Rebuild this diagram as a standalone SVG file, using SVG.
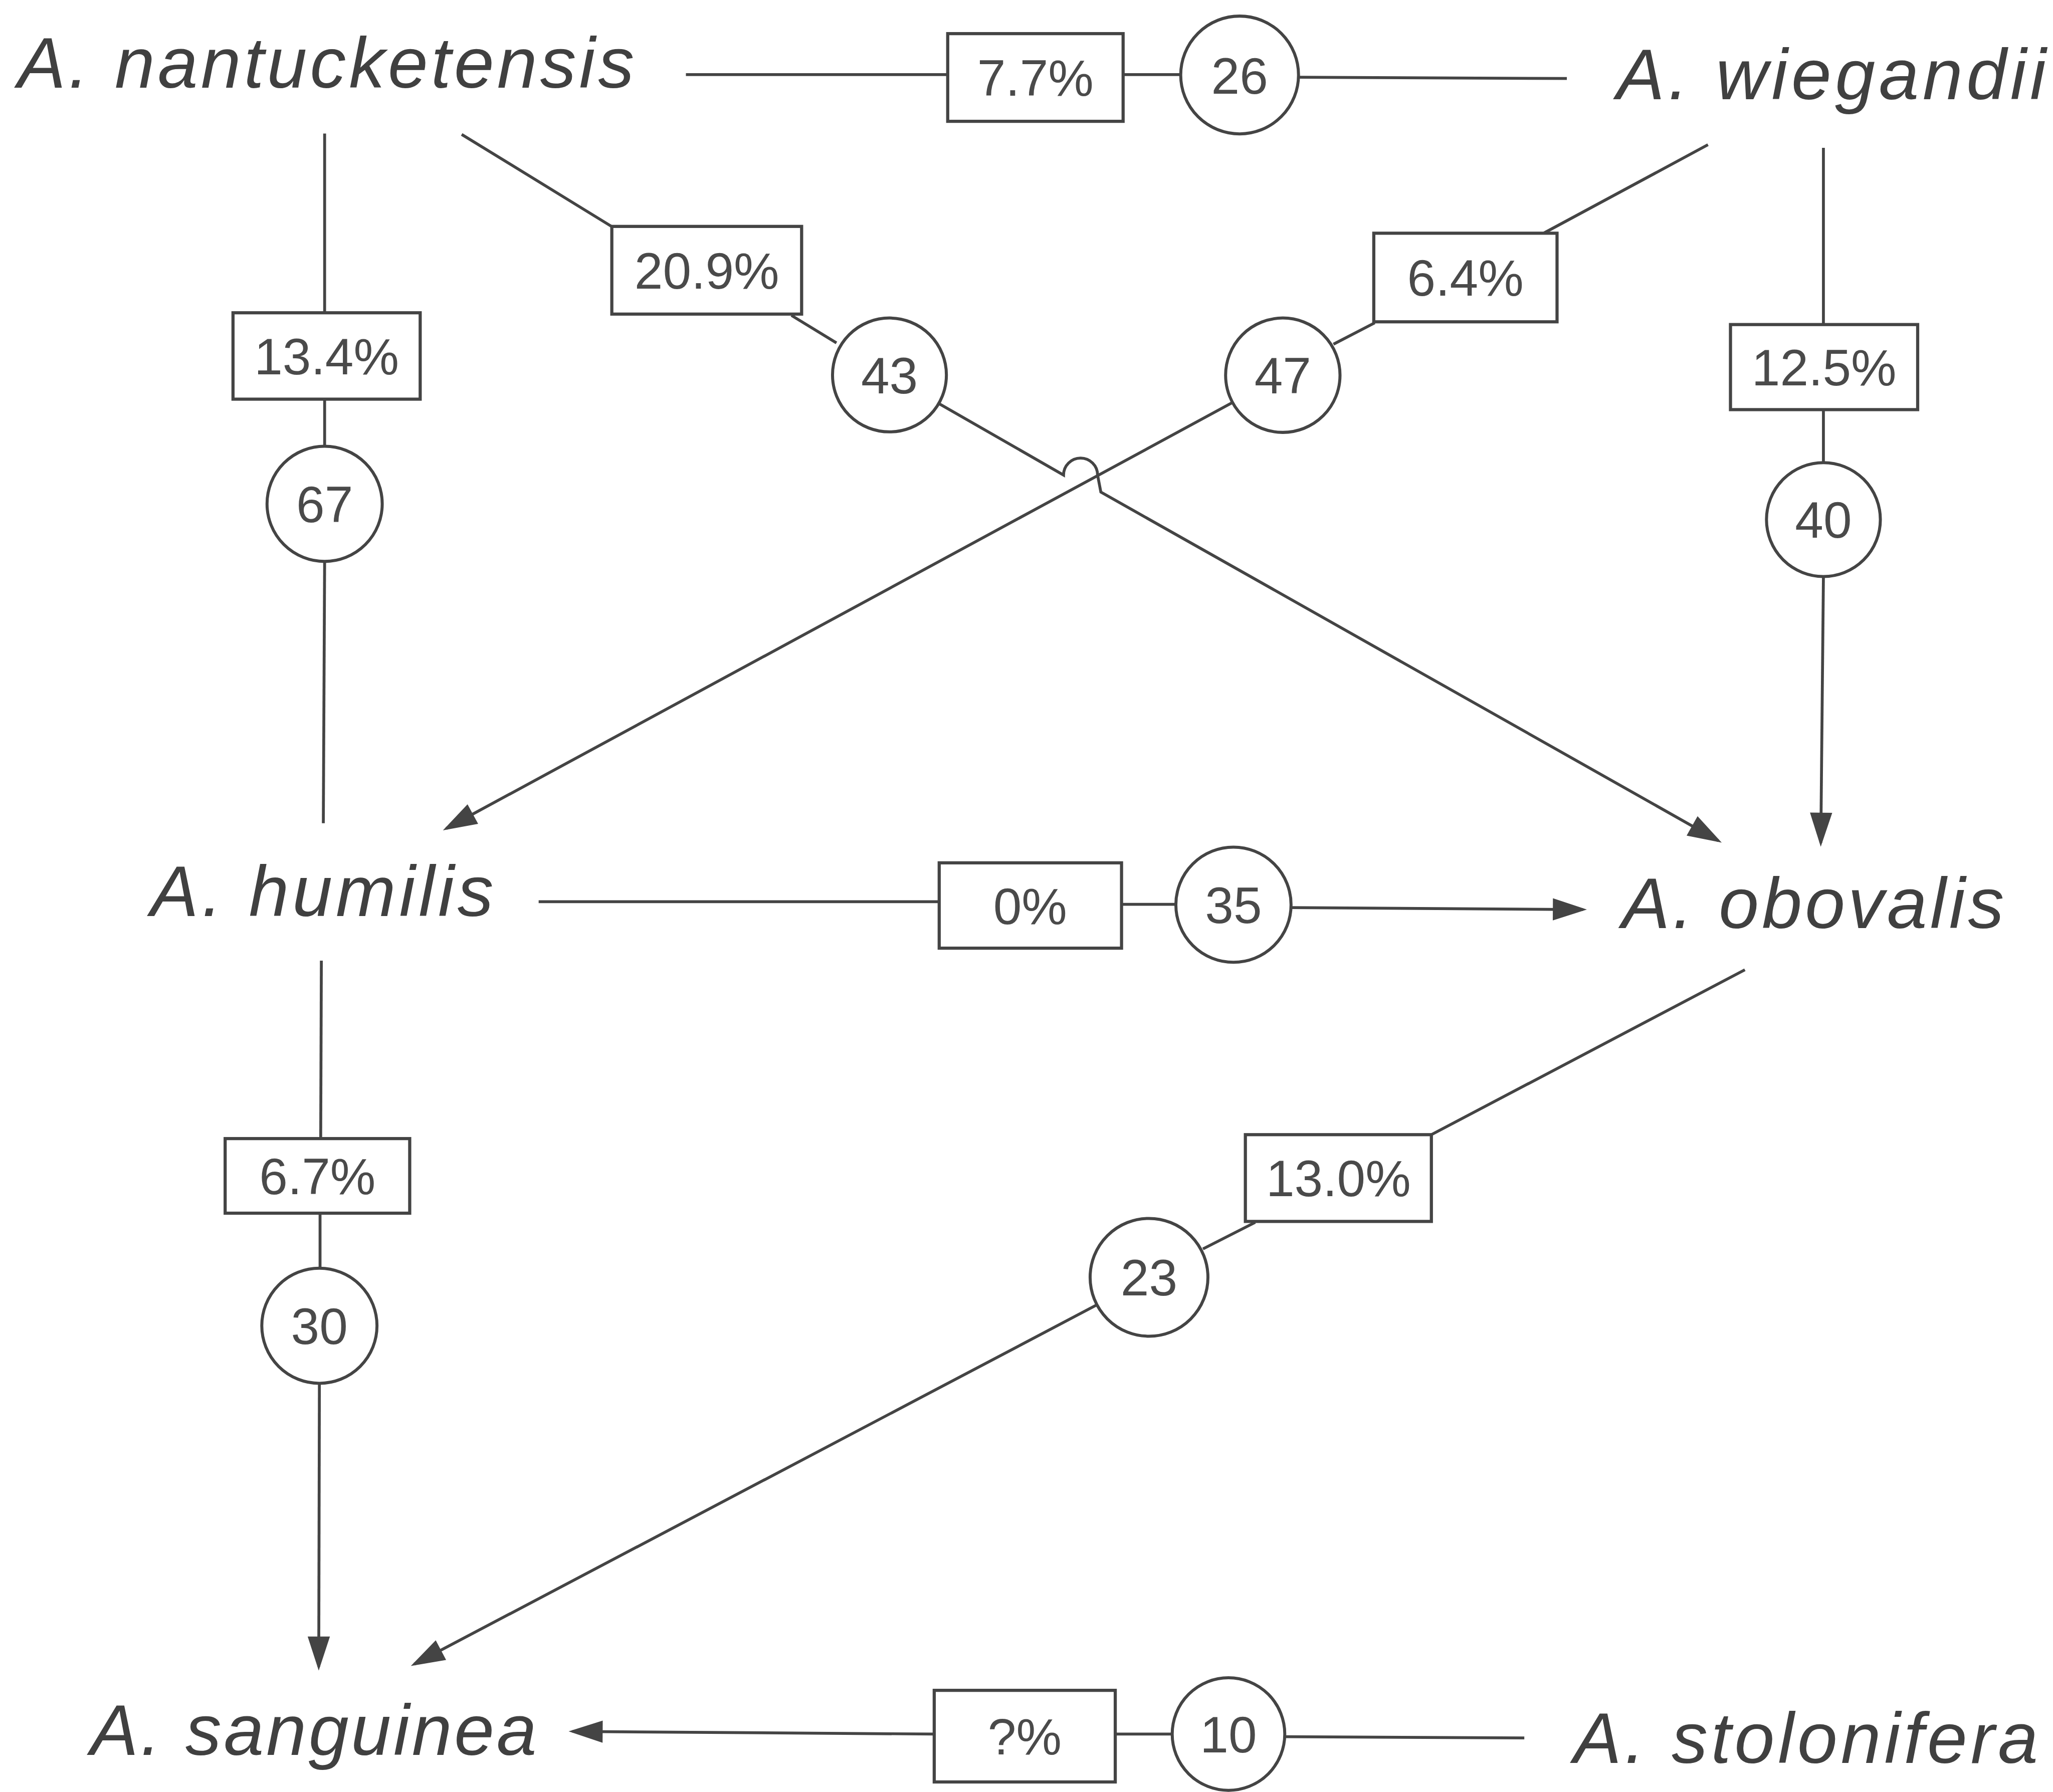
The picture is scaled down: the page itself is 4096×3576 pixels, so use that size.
<svg xmlns="http://www.w3.org/2000/svg" width="4096" height="3576" viewBox="0 0 4096 3576">
<defs>
<style>
.ln{fill:none;stroke:#444;stroke-width:2.2}
.bx{fill:#fff;stroke:#444;stroke-width:2.4}
.ci{fill:#fff;stroke:#444;stroke-width:2.3}
.num{font-family:"Liberation Sans",Arial,sans-serif;font-size:39px;fill:#4a4a4a;text-anchor:middle}
.sp{font-family:"Liberation Sans",Arial,sans-serif;font-style:italic;font-size:55px;fill:#404040}
</style>
<marker id="ah" markerUnits="userSpaceOnUse" markerWidth="26" markerHeight="17" refX="23" refY="8.5" orient="auto" overflow="visible">
<path d="M0,0 L26,8.5 L0,17 Z" fill="#444"/>
</marker>
</defs>
<rect width="4096" height="3576" fill="#ffffff"/>
<g transform="scale(2.6116)">
<g id="connectors">
<path class="ln" d="M524,57 L724,57"/>
<path class="ln" d="M858,57 L902,57"/>
<path class="ln" d="M992,59 L1197,60"/>
<path class="ln" d="M248,102 L248,239"/>
<path class="ln" d="M248,305 L248,341"/>
<path class="ln" d="M248,429 L247,629"/>
<path class="ln" d="M1393,113 L1393,248"/>
<path class="ln" d="M1393,313 L1393,353"/>
<path class="ln" d="M1393,441 L1391,644" marker-end="url(#ah)"/>
<path class="ln" d="M352.7,102.7 L468,173.5"/>
<path class="ln" d="M604.6,241 L639,262"/>
<path class="ln" d="M717.2,308.3 L812.5,363 A13,13 0 0 1 838.5,363 L841,376 L1312.7,642.4" marker-end="url(#ah)"/>
<path class="ln" d="M1304.8,110.6 L1179.6,178"/>
<path class="ln" d="M1050.2,246.7 L1018.7,263"/>
<path class="ln" d="M941.7,307.5 L341,633" marker-end="url(#ah)"/>
<path class="ln" d="M411.5,689 L717.5,689"/>
<path class="ln" d="M856.8,691 L898.5,691"/>
<path class="ln" d="M986,693.5 L1209.3,695" marker-end="url(#ah)"/>
<path class="ln" d="M245.5,734 L245,870"/>
<path class="ln" d="M244.5,927 L244.5,969"/>
<path class="ln" d="M244,1057 L243.5,1273.5" marker-end="url(#ah)"/>
<path class="ln" d="M1333,741 L1093.5,867"/>
<path class="ln" d="M958.9,934 L919,954.3"/>
<path class="ln" d="M838,997 L316.5,1271.6" marker-end="url(#ah)"/>
<path class="ln" d="M1164.5,1328 L981.5,1327"/>
<path class="ln" d="M895.5,1325 L852,1325"/>
<path class="ln" d="M713.7,1325 L437.4,1323" marker-end="url(#ah)"/>
</g>
<g id="n-nantucketensis"><text class="sp" x="13.5" y="67" textLength="471" lengthAdjust="spacing">A. nantucketensis</text></g>
<g id="n-wiegandii"><text class="sp" x="1235" y="76" textLength="328" lengthAdjust="spacing">A. wiegandii</text></g>
<g id="n-humilis"><text class="sp" x="115" y="700" textLength="262" lengthAdjust="spacing">A. humilis</text></g>
<g id="n-obovalis"><text class="sp" x="1239" y="709" textLength="292" lengthAdjust="spacing">A. obovalis</text></g>
<g id="n-sanguinea"><text class="sp" x="69" y="1341" textLength="341" lengthAdjust="spacing">A. sanguinea</text></g>
<g id="n-stolonifera"><text class="sp" x="1202" y="1347" textLength="355" lengthAdjust="spacing">A. stolonifera</text></g>

<g id="b-7-7"><rect class="bx" x="724" y="25.7" width="134" height="67"/><text class="num" x="791" y="73">7.7%</text></g>
<g id="c-26"><circle class="ci" cx="947" cy="57.3" r="45"/><text class="num" x="947" y="71.5">26</text></g>

<g id="b-13-4"><rect class="bx" x="178" y="239" width="143" height="66"/><text class="num" x="249.5" y="286">13.4%</text></g>
<g id="c-67"><circle class="ci" cx="248" cy="385" r="44"/><text class="num" x="248" y="399">67</text></g>

<g id="b-12-5"><rect class="bx" x="1322" y="248" width="143" height="65"/><text class="num" x="1393.5" y="294.5">12.5%</text></g>
<g id="c-40"><circle class="ci" cx="1393" cy="397" r="43.5"/><text class="num" x="1393" y="411">40</text></g>

<g id="b-20-9"><rect class="bx" x="467.4" y="173" width="145" height="67"/><text class="num" x="540" y="220.5">20.9%</text></g>
<g id="c-43"><circle class="ci" cx="679.5" cy="286.5" r="43.5"/><text class="num" x="679.5" y="300.5">43</text></g>

<g id="b-6-4"><rect class="bx" x="1049.5" y="178.2" width="140" height="67.7"/><text class="num" x="1119.5" y="226">6.4%</text></g>
<g id="c-47"><circle class="ci" cx="980" cy="286.7" r="43.7"/><text class="num" x="980" y="300.7">47</text></g>

<g id="b-0"><rect class="bx" x="717.5" y="659.3" width="139.3" height="65.2"/><text class="num" x="787" y="706">0%</text></g>
<g id="c-35"><circle class="ci" cx="942.3" cy="691.3" r="44"/><text class="num" x="942.3" y="705.3">35</text></g>

<g id="b-6-7"><rect class="bx" x="172" y="870" width="141" height="57"/><text class="num" x="242.5" y="912.5">6.7%</text></g>
<g id="c-30"><circle class="ci" cx="244" cy="1013" r="44"/><text class="num" x="244" y="1027">30</text></g>

<g id="b-13-0"><rect class="bx" x="951.4" y="867" width="142.1" height="66.3"/><text class="num" x="1022.5" y="914">13.0%</text></g>
<g id="c-23"><circle class="ci" cx="877.8" cy="976" r="45"/><text class="num" x="877.8" y="990">23</text></g>

<g id="b-q"><rect class="bx" x="713.7" y="1291.6" width="138.3" height="70"/><text class="num" x="782.8" y="1340.5">?%</text></g>
<g id="c-10"><circle class="ci" cx="938.5" cy="1325" r="43"/><text class="num" x="938.5" y="1339">10</text></g>
</g>
</svg>
